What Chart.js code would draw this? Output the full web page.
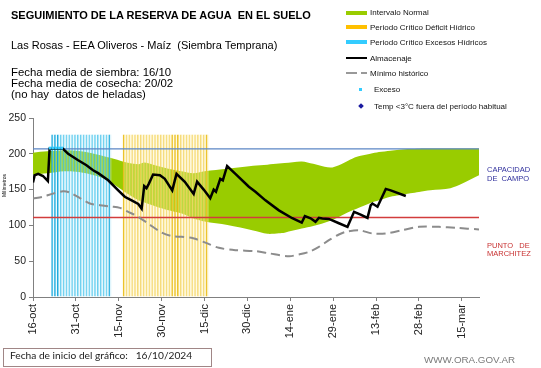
<!DOCTYPE html>
<html>
<head>
<meta charset="utf-8">
<script src="https://cdn.jsdelivr.net/npm/chart.js@4.4.1/dist/chart.umd.min.js"></script>
<style>
  body { margin: 0; background: #fff; font-family: 'Liberation Sans', Arial, sans-serif; }
  #wrap { position: relative; width: 541px; height: 368px; overflow: hidden; background: #fff; }
  #chart { position: absolute; left: 0; top: 0; }
  .t { position: absolute; white-space: nowrap; color: #000; }
  .leg { position: absolute; left: 346px; height: 10px; display: flex; align-items: center; font-size: 8px; color: #111; white-space: nowrap; }
  .leg .sw { width: 21px; margin-right: 3px; }
  .side { position: absolute; left: 487px; font-size: 7.5px; }
</style>
</head>
<body>
<div id="wrap">
  <canvas id="chart" width="541" height="368"></canvas>

  <div class="t" style="left:11px;top:10px;font-size:11px;line-height:11px;font-weight:bold;">SEGUIMIENTO DE LA RESERVA DE AGUA&nbsp; EN EL SUELO</div>
  <div class="t" style="left:11px;top:40.3px;font-size:11px;line-height:11px;">Las Rosas - EEA Oliveros - Maíz&nbsp; (Siembra Temprana)</div>
  <div class="t" style="left:11px;top:66.9px;font-size:11.4px;line-height:11.3px;">Fecha media de siembra: 16/10<br>Fecha media de cosecha: 20/02<br>(no hay&nbsp; datos de heladas)</div>

  <!-- leyenda -->
  <div class="leg" style="top:7.7px;"><div class="sw" style="height:4px;background:#99cc00;"></div>Intervalo Normal</div>
  <div class="leg" style="top:22.3px;"><div class="sw" style="height:4px;background:#ffc000;"></div>Periodo Crítico Déficit Hídrico</div>
  <div class="leg" style="top:37.3px;"><div class="sw" style="height:4px;background:#33ccff;"></div>Periodo Crítico Excesos Hídricos</div>
  <div class="leg" style="top:53.3px;"><div class="sw" style="height:2px;background:#000;"></div>Almacenaje</div>
  <div class="leg" style="top:68.3px;"><div class="sw" style="height:2px;background:linear-gradient(to right,#999 0,#999 11px,transparent 11px,transparent 15px,#999 15px);"></div>Mínimo histórico</div>
  <div class="leg" style="top:84.3px;"><div style="width:3px;height:3px;background:#33ccff;margin-left:13px;margin-right:12px;"></div>Exceso</div>
  <div class="leg" style="top:101px;"><div style="width:4px;height:4px;background:#1a1aa0;transform:rotate(45deg);margin-left:13px;margin-right:11px;"></div>Temp &lt;3°C fuera del período habitual</div>

  <div class="side" style="top:164.5px;line-height:9px;color:#2f2f9c;">CAPACIDAD<br>DE&nbsp; CAMPO</div>
  <div class="side" style="top:241.5px;line-height:8.5px;color:#c83232;">PUNTO&nbsp;&nbsp; DE<br>MARCHITEZ</div>

  <div class="t" style="left:2px;top:197px;font-size:5px;line-height:5px;transform:rotate(-90deg);transform-origin:left top;">Milímetros</div>

  <div class="t" style="left:3px;top:348px;width:209px;height:19px;border:1px solid #a08686;box-sizing:border-box;"></div>
  <div class="t" style="left:10px;top:348.5px;font-family:Lato,sans-serif;font-size:10.2px;line-height:13px;color:#222;">Fecha de inicio del gráfico:&nbsp;&nbsp; 16/10/2024</div>
  <div class="t" style="left:424px;top:354px;font-size:9.8px;line-height:11px;color:#7a7a7a;">WWW.ORA.GOV.AR</div>
</div>

<script>
// eje x en días desde el 16/10
var tickLabels = ['16-oct','31-oct','15-nov','30-nov','15-dic','30-dic','14-ene','29-ene','13-feb','28-feb','15-mar'];

var capacidadCampo = 207;
var puntoMarchitez = 111;

// almacenaje (mm)
var almDias    = [0, 0.6, 1.8, 3.5, 5.2, 5.8, 10.5, 12.3, 15.8, 18.7, 21, 22.8, 26.3, 29.8, 32.1, 34.5, 36.8, 38, 38.9, 39.7, 40.5, 42, 44.4, 46.1, 48.7, 50.2, 53.1, 56.2, 57.4, 59.7, 62, 63.2, 64, 65.5, 66.4, 67.9, 70.8, 75.5, 77.8, 81.3, 86, 90.7, 94, 95.1, 97.1, 98.8, 100, 101.2, 103.5, 107, 110, 112.3, 114.6, 117, 118.1, 118.7, 120.5, 123.4, 125.1, 130.4];
var almValores = [160, 170, 172, 169, 162, 207, 207, 200, 191, 184, 177, 173, 163, 149, 140, 135, 130, 123.5, 155, 152, 158, 171, 170, 165, 149, 172, 161, 144, 161, 150, 138, 150, 147, 165, 163, 183, 172, 154, 147, 135, 121, 110, 104, 113, 110, 105, 110.5, 109.6, 109, 103, 98, 119, 115, 110.5, 128, 130.5, 126, 151, 149, 141];

// mínimo histórico
var minDias    = [0, 3.5, 7, 10.5, 12.8, 16.3, 19.9, 23.4, 27.4, 30.4, 33.3, 36.8, 40.3, 45, 48.5, 52, 56, 60.3, 65, 70.8, 77.8, 82.5, 89.5, 93, 96.5, 100, 103.5, 107, 109.4, 114, 118.7, 123.4, 129.2, 135, 142, 148, 156];
var minValores = [137.5, 140, 144.4, 147.7, 146, 138.4, 130.5, 128.2, 126.3, 124.5, 119, 112, 102.6, 90, 85, 84, 82, 76, 68.7, 65.4, 64, 61, 57, 59.4, 63, 70, 79.4, 87.3, 91, 93.3, 88.7, 88.7, 93.3, 98, 98, 96.6, 94.3];

// intervalo normal
var normDias     = [0, 5, 11, 16, 22, 27, 32, 37, 39, 43, 47, 52, 56, 60, 68, 77, 82, 86, 88, 94, 98, 100, 104, 107, 111, 113, 118, 121, 125, 128, 132, 135, 139, 146, 150, 156];
var normSuperior = [201.6, 203.4, 205, 203.8, 199.5, 194.4, 188.7, 185.5, 187.7, 183.6, 179.6, 175.6, 173, 175.7, 179.1, 183.2, 184.8, 186.3, 187, 189.4, 186, 183.9, 180.7, 184, 191.9, 195.7, 200, 202.5, 204.4, 205.8, 206.6, 207.2, 207.3, 207.4, 207.4, 207.5];
var normInferior = [171, 172.7, 175.5, 174.6, 169.3, 160.5, 147, 134.8, 132, 126.4, 121.5, 116.6, 109.9, 105.3, 100.6, 93, 88.3, 89.1, 89.9, 95.5, 99.3, 101.2, 106.4, 111.9, 119.7, 122.8, 131.2, 135.1, 140.1, 142.2, 144.8, 146.8, 149.2, 152, 158.1, 170];

// periodos críticos (días marcados)
var excesosDias = [7, 8, 9, 10, 11, 12, 13, 14, 15, 16, 17, 18, 19, 20, 21, 22, 23, 24, 25, 26, 27];
var excesosFuertes = [7, 8, 9, 27];
var deficitDias = [32, 33, 34, 35, 36, 37, 38, 39, 40, 41, 42, 43, 44, 45, 46, 47, 48, 49, 50, 51, 52, 53, 54, 55, 56, 57, 58, 59, 60, 61];
var deficitFuertes = [32, 49, 50, 51, 61];
var periodoTope = 227;

// exceso
var excesoDias = [6, 7, 8, 9, 10];
var excesoValores = [208, 208, 208, 208, 208];

function pts(xs, ys) {
  return xs.map(function (x, i) { return { x: x, y: ys[i] }; });
}
function barras(dias) {
  return dias.map(function (d) { return { x: d, y: periodoTope }; });
}

var FONT = "'Liberation Sans', Arial, sans-serif";

new Chart(document.getElementById('chart'), {
  type: 'line',
  data: {
    datasets: [
      {
        label: 'Almacenaje', data: pts(almDias, almValores),
        borderColor: '#000', borderWidth: 2.5, pointRadius: 0, tension: 0, order: 1
      },
      {
        label: 'Exceso', data: pts(excesoDias, excesoValores), showLine: false,
        pointStyle: 'rect', pointRadius: 2, pointBackgroundColor: '#33ccff', pointBorderWidth: 0, order: 0
      },
      {
        label: 'Mínimo histórico', data: pts(minDias, minValores),
        borderColor: '#8c8c8c', borderWidth: 2, borderDash: [9, 5], pointRadius: 0, tension: 0.3, order: 2
      },
      {
        label: 'Capacidad', data: [{ x: 0, y: capacidadCampo }, { x: 156, y: capacidadCampo }],
        borderColor: '#5b86c5', borderWidth: 1.2, pointRadius: 0, order: 3
      },
      {
        label: 'Marchitez', data: [{ x: 0, y: puntoMarchitez }, { x: 156, y: puntoMarchitez }],
        borderColor: '#d23c3c', borderWidth: 1.3, pointRadius: 0, order: 3
      },
      {
        type: 'bar', label: 'Excesos', data: barras(excesosDias), grouped: false,
        barPercentage: 1, categoryPercentage: 1,
        backgroundColor: 'rgba(200,238,252,0.3)',
        borderColor: function (c) { return excesosFuertes.indexOf(c.raw && c.raw.x) >= 0 ? 'rgba(18,167,220,0.95)' : 'rgba(60,192,234,0.75)'; },
        borderWidth: { left: 1, right: 0, top: 0, bottom: 0 }, order: 4
      },
      {
        type: 'bar', label: 'Déficit', data: barras(deficitDias), grouped: false,
        barPercentage: 1, categoryPercentage: 1,
        backgroundColor: 'rgba(255,242,180,0.35)',
        borderColor: function (c) { return deficitFuertes.indexOf(c.raw && c.raw.x) >= 0 ? 'rgba(232,187,16,0.95)' : 'rgba(243,210,90,0.8)'; },
        borderWidth: { left: 1, right: 0, top: 0, bottom: 0 }, order: 4
      },
      {
        label: 'Sup', data: pts(normDias, normSuperior),
        borderWidth: 0, pointRadius: 0, tension: 0.3,
        fill: '+1', backgroundColor: '#99cc00', order: 5
      },
      {
        label: 'Inf', data: pts(normDias, normInferior),
        borderWidth: 0, pointRadius: 0, tension: 0.3, order: 5
      }
    ]
  },
  options: {
    responsive: false,
    animation: false,
    devicePixelRatio: 1,
    layout: { padding: { left: 0, top: 118, right: 62, bottom: 0 } },
    plugins: { legend: { display: false }, tooltip: { enabled: false } },
    scales: {
      x: {
        type: 'linear', min: 0, max: 156, offset: false,
        afterFit: function (s) { s.height = 71; },
        border: { color: '#808080', width: 1 },
        grid: { offset: false, drawOnChartArea: false, tickLength: 4, tickColor: '#808080' },
        ticks: {
          stepSize: 15, includeBounds: false, autoSkip: false,
          minRotation: 90, maxRotation: 90, padding: 3,
          font: { family: FONT, size: 11 }, color: '#222',
          callback: function (v) { return tickLabels[v / 15] || ''; }
        }
      },
      y: {
        min: 0, max: 250,
        afterFit: function (s) { s.width = 33; },
        border: { color: '#808080', width: 1 },
        grid: { drawOnChartArea: false, tickLength: 4, tickColor: '#808080' },
        ticks: { stepSize: 50, padding: 3, font: { family: FONT, size: 10.5 }, color: '#222' }
      }
    }
  }
});
</script>
</body>
</html>
